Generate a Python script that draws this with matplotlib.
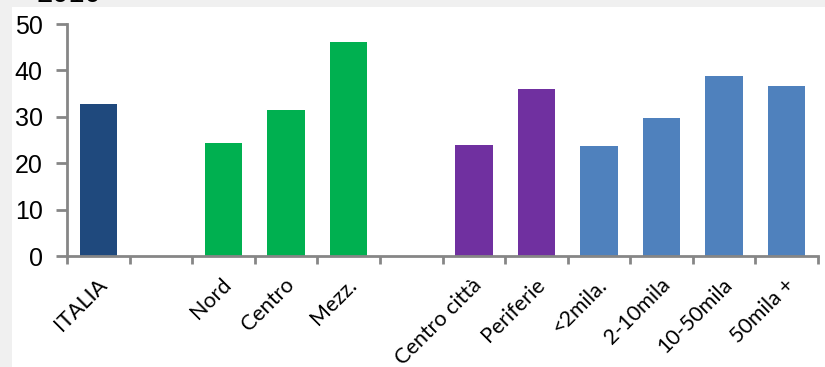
import matplotlib
matplotlib.use("Agg")
import matplotlib.pyplot as plt
from matplotlib.patches import Rectangle
import matplotlib.transforms as mtransforms

categories = ["ITALIA", "", "Nord", "Centro", "Mezz.", "", "Centro città",
              "Periferie", "<2mila.", "2-10mila", "10-50mila", "50mila +"]
values = [32.7, None, 24.4, 31.5, 46.1, None, 23.9, 36.0, 23.7, 29.7, 38.8, 36.6]
groups = ["italia", None, "area", "area", "area", None, "city", "city",
          "size", "size", "size", "size"]
palette = {"italia": "#1F497D", "area": "#00B050", "city": "#7030A0", "size": "#4F81BD"}
yticks = [0, 10, 20, 30, 40, 50]
year_label = "2010"

W, H = 825, 367
fig = plt.figure(figsize=(W / 100, H / 100), dpi=100, facecolor="#F0F0F0")
fig.patches.append(Rectangle((12 / W, 0), 1 - 12 / W, 1 - 7 / H,
                             transform=fig.transFigure, facecolor="white",
                             edgecolor="none", zorder=-5))
fig.text(37 / W, 1 - 2 / H, year_label, fontsize=21, family="Liberation Sans",
         va="baseline", ha="left", color="black")

ax = fig.add_axes([67 / W, (H - 256) / H, (818 - 67) / W, (256 - 24) / H])
ax.set_facecolor("none")

xs = [i for i, v in enumerate(values) if v is not None]
hs = [values[i] for i in xs]
cols = [palette[groups[i]] for i in xs]
ax.bar(xs, hs, width=0.6, color=cols, edgecolor="none", zorder=2)

ax.set_xlim(-0.5, len(categories) - 0.5)
ax.set_ylim(0, 50)
ax.set_yticks(yticks)
ax.set_yticklabels([str(t) for t in yticks], fontsize=18, family="Liberation Sans")

axis_col = "#868686"
for s in ("top", "right"):
    ax.spines[s].set_visible(False)
for s in ("left", "bottom"):
    ax.spines[s].set_color(axis_col)
    ax.spines[s].set_linewidth(2)
ax.tick_params(axis="y", direction="out", length=8, width=2, color=axis_col, pad=9.5)

# category boundaries carry the x ticks; labels sit at slot centres
ax.set_xticks([i - 0.5 for i in range(len(categories) + 1)])
ax.set_xticklabels([])
ax.tick_params(axis="x", direction="out", length=6, width=2, color=axis_col)
ax.set_xticks(range(len(categories)), minor=True)
ax.tick_params(axis="x", which="minor", length=0)
ax.set_xticklabels(categories, minor=True)
offset = mtransforms.ScaledTranslation(-2 / 100, -14 / 100, fig.dpi_scale_trans)
for lab in ax.get_xticklabels(minor=True):
    lab.set_rotation(45)
    lab.set_ha("right")
    lab.set_va("top")
    lab.set_rotation_mode("anchor")
    lab.set_fontsize(15.5)
    lab.set_family("Lato")
    lab.set_transform(lab.get_transform() + offset)

fig.savefig("out.png", dpi=100, facecolor=fig.get_facecolor())
